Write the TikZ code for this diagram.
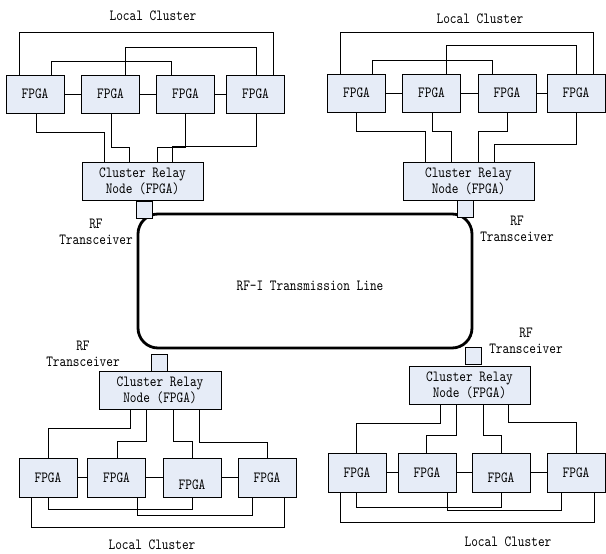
\documentclass[tikz,border=0pt]{standalone}
\usepackage{fontspec}
\newfontfamily\diagfont[FakeStretch=0.82, Extension=.otf]{lmmono10-regular}
\definecolor{boxfill}{HTML}{E6ECF7}
\begin{document}
\begin{tikzpicture}[x=1pt,y=-1pt,
  lbl/.style={font=\fontsize{15.5}{16}\diagfont, inner sep=0pt, align=center},
  fpga/.style={draw, fill=boxfill, line width=0.6pt, minimum width=58pt, minimum height=38pt,
               inner sep=0pt, font=\fontsize{15.5}{16}\diagfont},
  relay/.style={fpga, minimum width=121pt, minimum height=38pt, align=center},
  rftx/.style={draw, fill=boxfill, line width=0.6pt, minimum width=16pt, minimum height=17pt, inner sep=0pt},
  wire/.style={line width=0.6pt},
  ringline/.style={draw, line width=2.8pt, rounded corners=20pt, minimum width=334pt,
                   minimum height=134pt, inner sep=0pt}]
\useasboundingbox (0,0) rectangle (606,554);

% ---- transmission ring ----
\node[ringline, label={[lbl, shift={(5,5)}]center:RF-I Transmission Line}] (ring) at (305,281) {};

% ---- top-left cluster ----
\node[lbl] (tlabel) at (153,16) {Local Cluster};
\node[fpga] (t1) at (35,94) {FPGA};
\node[fpga] (t2) at (110.5,94) {FPGA};
\node[fpga] (t3) at (185.5,94) {FPGA};
\node[fpga] (t4) at (255.5,94) {FPGA};
\node[relay] (tr) at (142.5,181.5) {Cluster Relay\\Node (FPGA)};
\node[rftx] (ttx) at (144,209.5) {};
\node[lbl] (trf) at (96,232) {RF\\Transceiver};
\draw[wire] (t1) -- (t2) (t2) -- (t3) (t3) -- (t4);
\draw[wire] (t1.north -| 19,0) |- (273,32) -- (t4.north -| 273,0);
\draw[wire] (t2.north -| 125,0) |- (256,47) -- (t4.north -| 256,0);
\draw[wire] (t1.north -| 51,0) |- (171,61) -- (t3.north -| 171,0);
\draw[wire] (t1.south -| 36,0) |- (104,132) -- (tr.north -| 104,0);
\draw[wire] (t2.south -| 111,0) |- (129,147) -- (tr.north -| 129,0);
\draw[wire] (t3.south -| 185,0) |- (157,147) -- (tr.north -| 157,0);
\draw[wire] (t4.south -| 256,0) |- (172,146) -- (tr.north -| 172,0);

% ---- top-right cluster ----
\node[lbl] (ulabel) at (480,19) {Local Cluster};
\node[fpga] (u1) at (356.5,93) {FPGA};
\node[fpga] (u2) at (431.5,93) {FPGA};
\node[fpga] (u3) at (507,93) {FPGA};
\node[fpga] (u4) at (576,93) {FPGA};
\node[relay, minimum width=131pt] (ur) at (468.5,181) {Cluster Relay\\Node (FPGA)};
\node[rftx] (utx) at (465,208.5) {};
\node[lbl] (urf) at (517,229) {RF\\Transceiver};
\draw[wire] (u1) -- (u2) (u2) -- (u3) (u3) -- (u4);
\draw[wire] (u1.north -| 340,0) |- (593,32) -- (u4.north -| 593,0);
\draw[wire] (u2.north -| 446,0) |- (576,45) -- (u4.north -| 576,0);
\draw[wire] (u1.north -| 372,0) |- (492,60) -- (u3.north -| 492,0);
\draw[wire] (u1.south -| 356,0) |- (425,131) -- (ur.north -| 425,0);
\draw[wire] (u2.south -| 432,0) |- (451,131) -- (ur.north -| 451,0);
\draw[wire] (u3.south -| 507,0) |- (478,131) -- (ur.north -| 478,0);
\draw[wire] (u4.south -| 576,0) |- (494,144) -- (ur.north -| 494,0);

% ---- bottom-left cluster ----
\node[lbl] (vlabel) at (152,545) {Local Cluster};
\node[relay, minimum width=122pt] (vr) at (160,390) {Cluster Relay\\Node (FPGA)};
\node[rftx] (vtx) at (159,362.5) {};
\node[lbl] (vrf) at (83,353.5) {RF\\Transceiver};
\node[fpga, minimum height=39pt] (v1) at (48,477.5) {FPGA};
\node[fpga, minimum height=39pt] (v2) at (116.5,477.5) {FPGA};
\node[fpga, minimum height=39pt] (v3) at (192,477.5) {\raisebox{-12pt}[0pt][0pt]{FPGA}};
\node[fpga, minimum height=39pt] (v4) at (267,477.5) {FPGA};
\draw[wire] (v1) -- (v2) (v2) -- (v3) (v3) -- (v4);
\draw[wire] (vr.south -| 130,0) |- (48,428) -- (v1.north -| 48,0);
\draw[wire] (vr.south -| 146,0) |- (117,441) -- (v2.north -| 117,0);
\draw[wire] (vr.south -| 173,0) |- (192,441) -- (v3.north -| 192,0);
\draw[wire] (vr.south -| 199,0) |- (267,442) -- (v4.north -| 267,0);
\draw[wire] (v1.south -| 31,0) |- (284,527) -- (v4.south -| 284,0);
\draw[wire] (v1.south -| 48,0) |- (192,509) -- (v3.south -| 192,0);
\draw[wire] (v2.south -| 137,0) |- (252,515) -- (v4.south -| 252,0);

% ---- bottom-right cluster ----
\node[lbl] (wlabel) at (508,542) {Local Cluster};
\node[relay] (wr) at (469.5,385.5) {Cluster Relay\\Node (FPGA)};
\node[rftx] (wtx) at (473,356) {};
\node[lbl] (wrf) at (526,340.5) {RF\\Transceiver};
\node[fpga, minimum height=39pt] (w1) at (357,472.5) {FPGA};
\node[fpga, minimum height=39pt] (w2) at (427,472.5) {FPGA};
\node[fpga, minimum height=39pt] (w3) at (501,472.5) {\raisebox{-10pt}[0pt][0pt]{FPGA}};
\node[fpga, minimum height=39pt] (w4) at (576,472.5) {FPGA};
\draw[wire] (w1) -- (w2) (w2) -- (w3) (w3) -- (w4);
\draw[wire] (wr.south -| 440,0) |- (356,423) -- (w1.north -| 356,0);
\draw[wire] (wr.south -| 456,0) |- (426,435) -- (w2.north -| 426,0);
\draw[wire] (wr.south -| 483,0) |- (501,435) -- (w3.north -| 501,0);
\draw[wire] (wr.south -| 508,0) |- (576,422) -- (w4.north -| 576,0);
\draw[wire] (w1.south -| 340,0) |- (594,522) -- (w4.south -| 594,0);
\draw[wire] (w1.south -| 356,0) |- (501,507) -- (w3.south -| 501,0);
\draw[wire] (w2.south -| 447,0) |- (561,510) -- (w4.south -| 561,0);
\end{tikzpicture}
\end{document}
